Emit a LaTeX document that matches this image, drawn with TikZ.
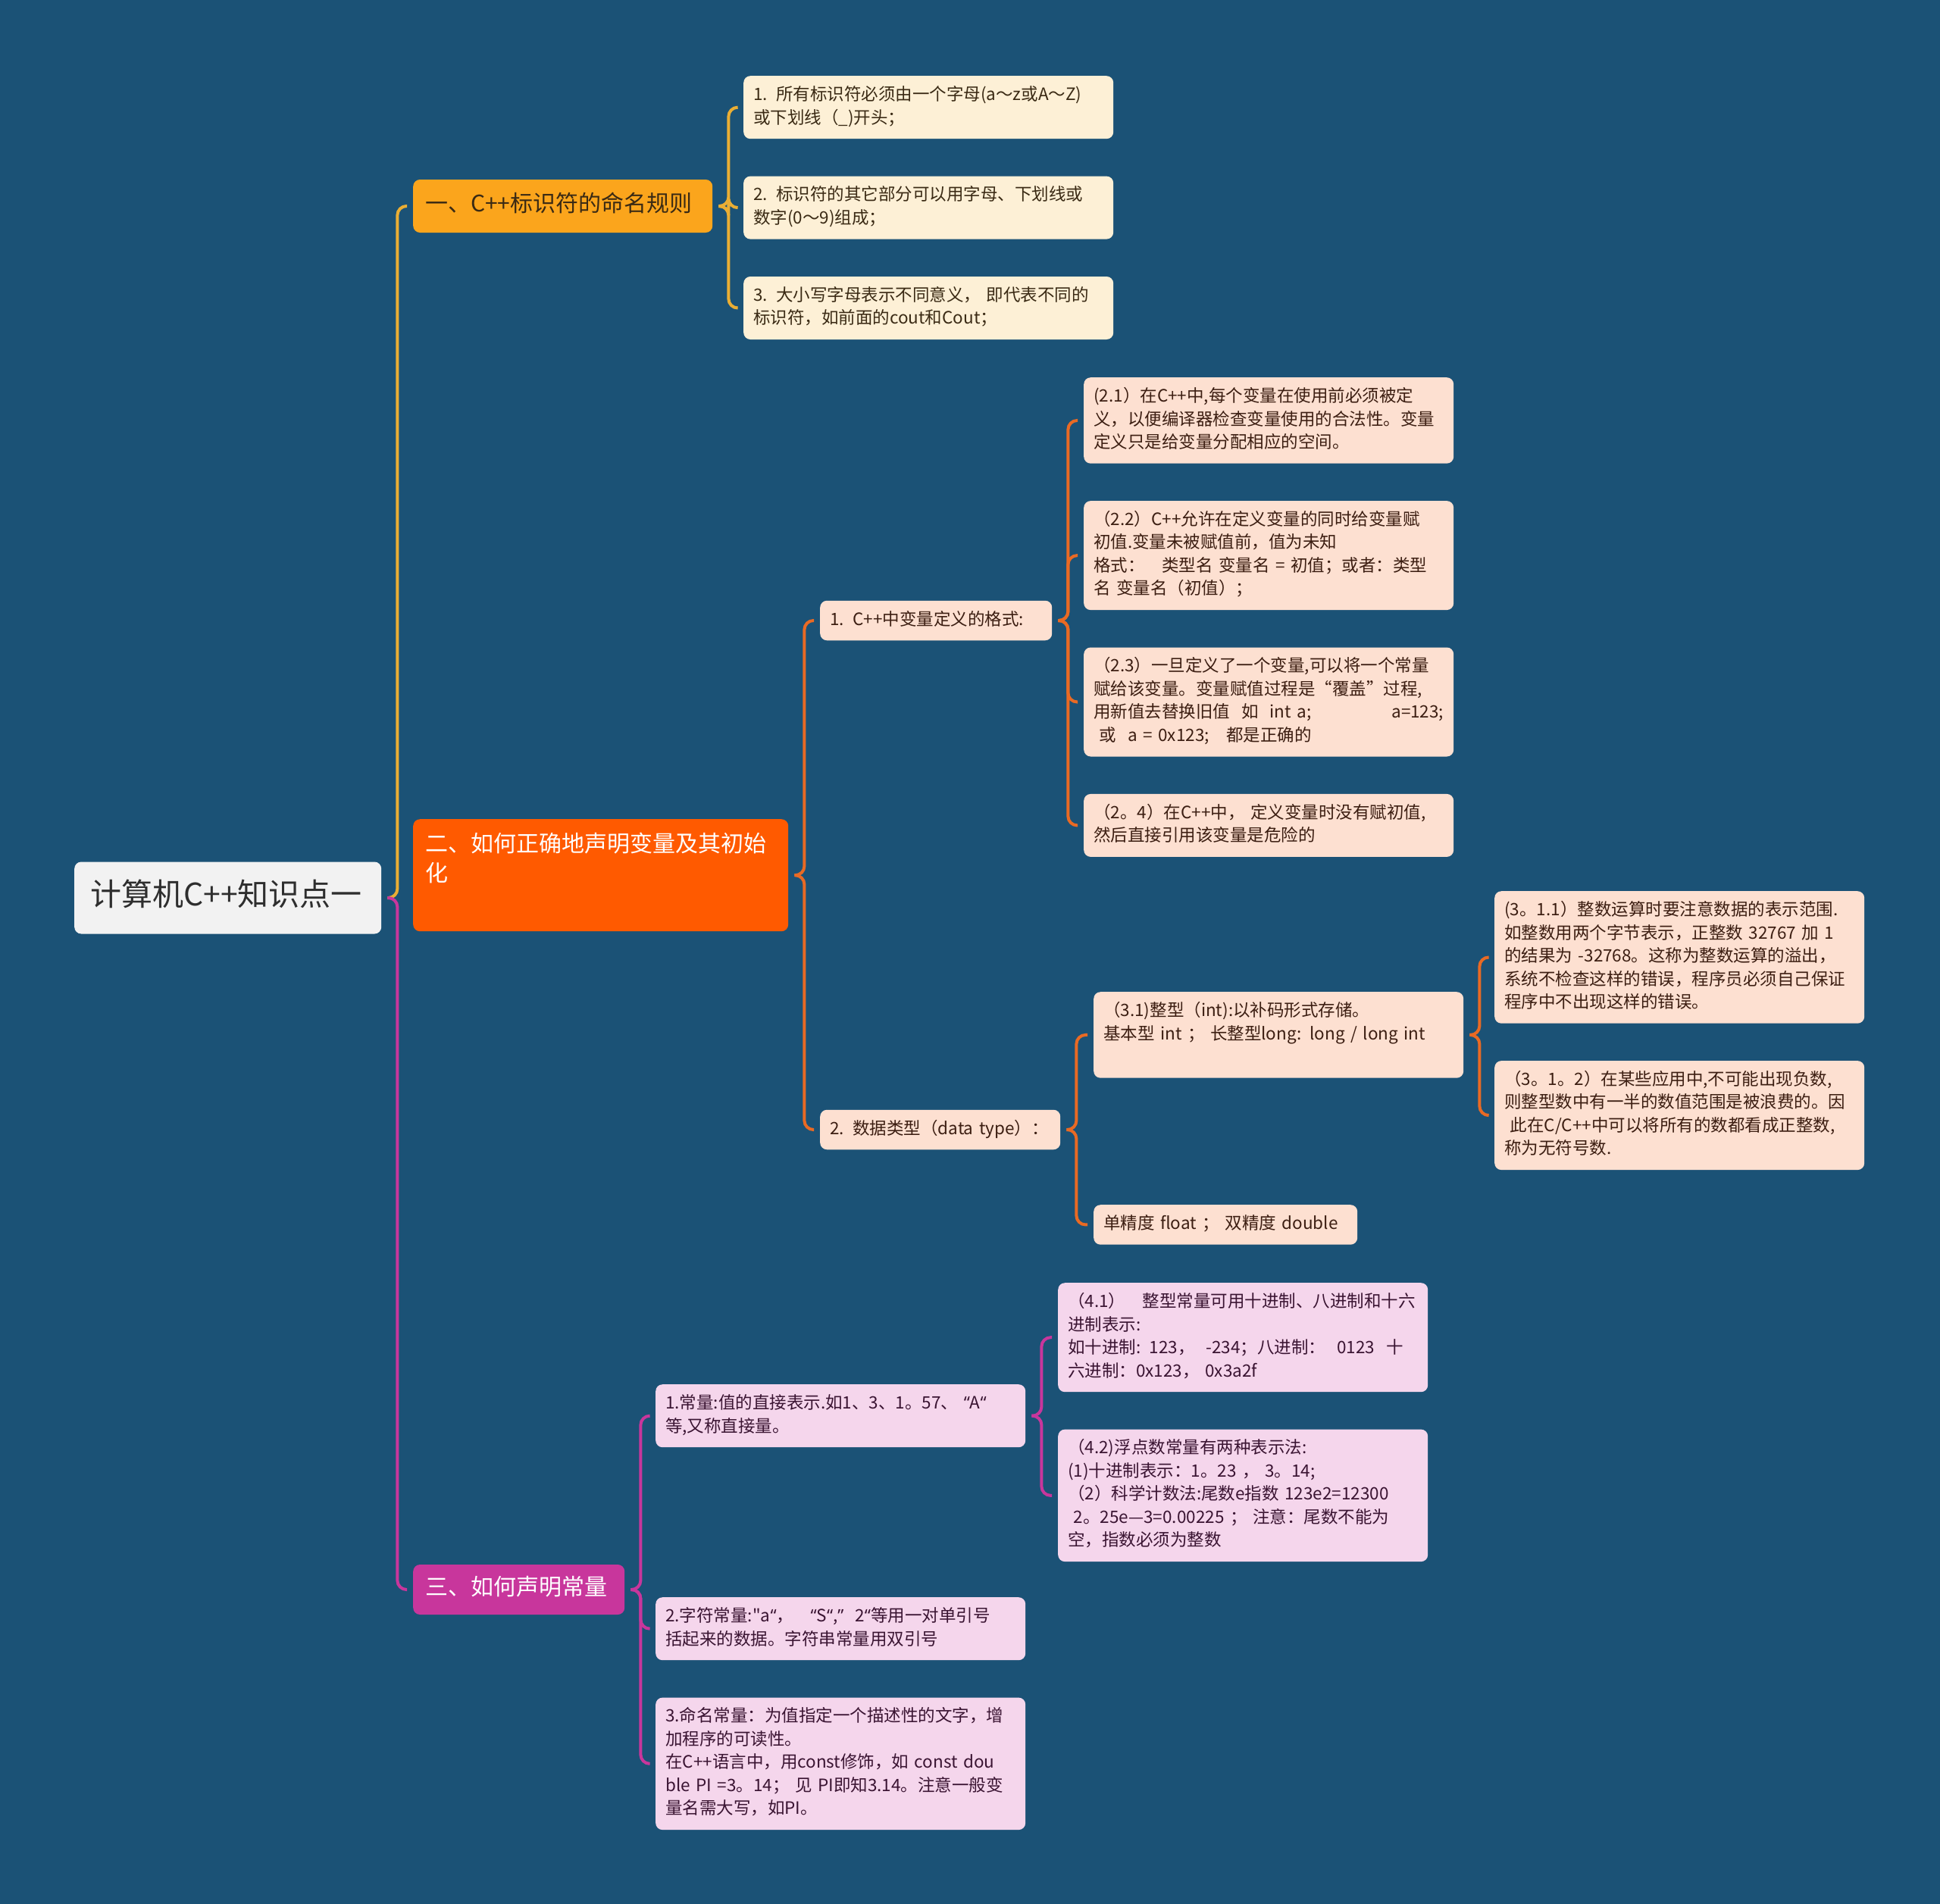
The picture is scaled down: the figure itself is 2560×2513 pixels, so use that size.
\documentclass[tikz,border=0pt]{standalone}
\usepackage{fontspec}
\newfontfamily\cjk{Noto Sans CJK SC}
\newfontfamily\latn{Noto Sans}
\usetikzlibrary{positioning}
\definecolor{sea}{HTML}{1B5276}
\definecolor{snow}{HTML}{F2F2F2}
\definecolor{graphite}{HTML}{2E2E2E}
\definecolor{amber}{HTML}{FBA51C}
\definecolor{vermil}{HTML}{FF5A00}
\definecolor{orchid}{HTML}{C8369C}
\definecolor{cream}{HTML}{FDF0D6}
\definecolor{peach}{HTML}{FDE0D1}
\definecolor{blush}{HTML}{F5D6EC}
\definecolor{gold}{HTML}{EAAE34}
\definecolor{ember}{HTML}{E96A24}
\definecolor{plum}{HTML}{C03A9C}
\definecolor{umber}{HTML}{3A2A14}
\definecolor{rust}{HTML}{3C1E12}
\definecolor{grape}{HTML}{3A1432}

\begin{document}
\begin{tikzpicture}[x=1pt,y=1pt,
  node distance=49pt,
  box/.style={rounded corners=9pt,inner xsep=13pt,inner ysep=11pt,align=left,text width=462pt,
    font=\cjk\fontsize{22.5}{30.5}\selectfont,execute at begin node=\strut,execute at end node=\strut},
  leafa/.style={box,fill=cream,text=umber},
  leafb/.style={box,fill=peach,text=rust},
  leafc/.style={box,fill=blush,text=grape},
  topic/.style={box,inner xsep=16pt,inner ysep=15.5pt,font=\cjk\fontsize{30}{39}\selectfont},
  root/.style={box,fill=snow,text=graphite,inner xsep=21pt,inner ysep=22.5pt,text width=363pt,
    font=\cjk\fontsize{41}{50}\selectfont},
  arr/.style={line width=4pt,rounded corners=12pt},
  arra/.style={arr,draw=gold},
  arrb/.style={arr,draw=ember},
  arrc/.style={arr,draw=orchid}]
\useasboundingbox (0,0) rectangle (2560,-2513);
\fill[sea] (0,0) rectangle (2560,-2513);

% root and main topics
\node[root,anchor=west] (root) at (98,-1185) {计算机C++知识点一};
\node[topic,fill=amber,text=umber,text width=363pt,anchor=west] (b1) at (545,-272) {一、C++标识符的命名规则};
\node[topic,fill=vermil,text=white,text width=463pt,anchor=north west] (b2) at (545,-1081) {二、如何正确地声明变量及其初始\\化\\\mbox{}};
\node[topic,fill=orchid,text=white,text width=247pt,inner ysep=13.5pt,anchor=west] (b3) at (545,-2098) {三、如何声明常量};

% naming rules
\node[leafa,anchor=north west] (l1a) at (981,-100) {1. 所有标识符必须由一个字母(a～z或A～Z)\\或下划线（\_)开头；};
\node[leafa,below=of l1a] (l1b) {2. 标识符的其它部分可以用字母、下划线或\\数字(0～9)组成；};
\node[leafa,below=of l1b] (l1c) {3. 大小写字母表示不同意义， 即代表不同的\\标识符，如前面的cout和Cout；};

% variables
\node[leafb,text width=280pt,anchor=west] (s21) at (1082,-819) {1. C++中变量定义的格式:};
\node[leafb,text width=291pt,anchor=west] (s22) at (1082,-1491) {2. 数据类型（data type）：};
\node[leafb,anchor=north west] (v21) at (1430,-498) {(2.1）在C++中,每个变量在使用前必须被定\\义，以便编译器检查变量使用的合法性。变量\\定义只是给变量分配相应的空间。};
\node[leafb,below=of v21] (v22) {（2.2）C++允许在定义变量的同时给变量赋\\初值.变量未被赋值前，值为未知\\格式：\quad 类型名 变量名 = 初值；或者：类型\\名 变量名（初值）；};
\node[leafb,below=of v22] (v23) {（2.3）一旦定义了一个变量,可以将一个常量\\赋给该变量。变量赋值过程是“覆盖”过程,\\用新值去替换旧值\ \ 如\ \ int a;\hfill a=123;\\\ 或\ \ a = 0x123;\quad 都是正确的};
\node[leafb,below=of v23] (v24) {（2。4）在C++中， 定义变量时没有赋初值,\\然后直接引用该变量是危险的};
\node[leafb,anchor=north west] (i31) at (1443,-1309) {（3.1)整型（int):以补码形式存储。\\基本型 int ； 长整型long: long / long int\\\mbox{}};
\node[leafb,text width=322pt,anchor=north west] (flt) at (1443,-1590) {单精度 float ； 双精度 double};
\node[leafb,anchor=north west] (i311) at (1972,-1176) {(3。1.1）整数运算时要注意数据的表示范围.\\如整数用两个字节表示，正整数 32767 加 1\\的结果为 -32768。这称为整数运算的溢出，\\系统不检查这样的错误，程序员必须自己保证\\程序中不出现这样的错误。};
\node[leafb,below=of i311] (i312) {（3。1。2）在某些应用中,不可能出现负数,\\则整型数中有一半的数值范围是被浪费的。因\\\ 此在C/C++中可以将所有的数都看成正整数,\\称为无符号数.};

% constants
\node[leafc,anchor=north west] (c1) at (865,-1827) {1.常量:值的直接表示.如1、3、1。57、\ {\latn“}A{\latn“}\\等,又称直接量。};
\node[leafc,anchor=north west] (c41) at (1396,-1693) {（4.1）\quad 整型常量可用十进制、八进制和十六\\进制表示:\\如十进制: 123，\ \ -234；八进制：\ \ 0123\ \ 十\\六进制：0x123，\ 0x3a2f};
\node[leafc,below=of c41] (c42) {（4.2)浮点数常量有两种表示法:\\(1)十进制表示：1。23 ，\ 3。14;\\（2）科学计数法:尾数e指数 123e2=12300\\\ 2。25e—3=0.00225 ；\ 注意：尾数不能为\\空，指数必须为整数};
\node[leafc,anchor=north west] (c2) at (865,-2108) {2.字符常量:"a{\latn“}，\quad{\latn“}S{\latn“},{\latn”}\ \ 2{\latn“}等用一对单引号\\括起来的数据。字符串常量用双引号};
\node[leafc,below=of c2] (c3) {3.命名常量：为值指定一个描述性的文字，增\\加程序的可读性。\\在C++语言中，用const修饰，如 const dou\\ble PI =3。14；\ 见 PI即知3.14。注意一般变\\量名需大写，如PI。};

% connectors
\draw[arra] ([xshift=8]root.east) -- ([xshift=21]root.east) |- ([xshift=-8]b1.west);
\draw[arrc] ([xshift=8]root.east) -- ([xshift=21]root.east) |- ([xshift=-8]b3.west);
\draw[arra] ([xshift=8]b1.east) -- ([xshift=21]b1.east) |- ([xshift=-8]l1a.west);
\draw[arra] ([xshift=8]b1.east) -- ([xshift=21]b1.east) |- ([xshift=-8]l1b.west);
\draw[arra] ([xshift=8]b1.east) -- ([xshift=21]b1.east) |- ([xshift=-8]l1c.west);
\draw[arrb] ([xshift=8]b2.east) -- ([xshift=21]b2.east) |- ([xshift=-8]s21.west);
\draw[arrb] ([xshift=8]b2.east) -- ([xshift=21]b2.east) |- ([xshift=-8]s22.west);
\draw[arrb] ([xshift=8]s21.east) -- ([xshift=21]s21.east) |- ([xshift=-8]v21.west);
\draw[arrb] ([xshift=8]s21.east) -- ([xshift=21]s21.east) |- ([xshift=-8]v22.west);
\draw[arrb] ([xshift=8]s21.east) -- ([xshift=21]s21.east) |- ([xshift=-8]v23.west);
\draw[arrb] ([xshift=8]s21.east) -- ([xshift=21]s21.east) |- ([xshift=-8]v24.west);
\draw[arrb] ([xshift=8]s22.east) -- ([xshift=21]s22.east) |- ([xshift=-8]i31.west);
\draw[arrb] ([xshift=8]s22.east) -- ([xshift=21]s22.east) |- ([xshift=-8]flt.west);
\draw[arrb] ([xshift=8]i31.east) -- ([xshift=21]i31.east) |- ([xshift=-8]i311.west);
\draw[arrb] ([xshift=8]i31.east) -- ([xshift=21]i31.east) |- ([xshift=-8]i312.west);
\draw[arrc] ([xshift=8]b3.east) -- ([xshift=21]b3.east) |- ([xshift=-8]c1.west);
\draw[arrc] ([xshift=8]b3.east) -- ([xshift=21]b3.east) |- ([xshift=-8]c2.west);
\draw[arrc] ([xshift=8]b3.east) -- ([xshift=21]b3.east) |- ([xshift=-8]c3.west);
\draw[arrc] ([xshift=8]c1.east) -- ([xshift=21]c1.east) |- ([xshift=-8]c41.west);
\draw[arrc] ([xshift=8]c1.east) -- ([xshift=21]c1.east) |- ([xshift=-8]c42.west);
\end{tikzpicture}
\end{document}
